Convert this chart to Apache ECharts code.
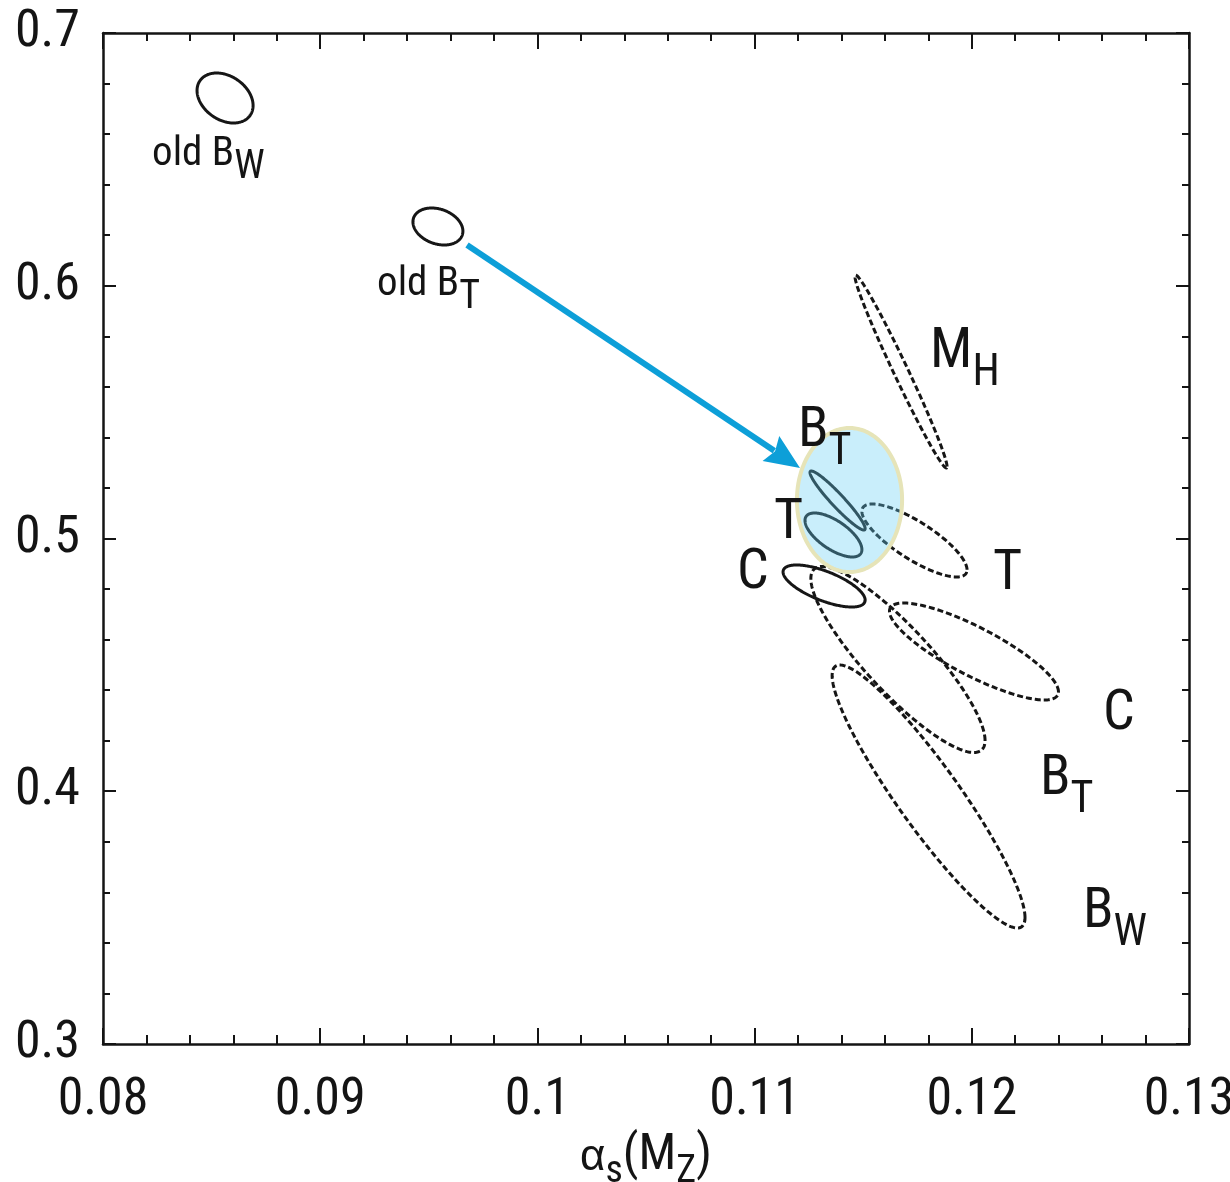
<!DOCTYPE html>
<html>
<head>
<meta charset="utf-8">
<script src="https://cdn.jsdelivr.net/npm/echarts@6/dist/echarts.min.js"></script>
<style>
html,body{margin:0;padding:0;background:#fff;}
#chart{width:1230px;height:1182px;}
</style>
</head>
<body>
<div id="chart"></div>
<script>
// ---------- data ----------
const xTickLabels = ['0.08', '0.09', '0.1', '0.11', '0.12', '0.13'];
const yTickLabels = ['0.3', '0.4', '0.5', '0.6', '0.7'];

// confidence ellipses: centre, half-extent in x and y, correlation
const ellipseNames = ['old B_W', 'old B_T', 'M_H', 'combined', 'B_T', 'T', 'C', 'T fit', 'C fit', 'B_T fit', 'B_W fit'];
const ellipseKind  = ['solid', 'solid', 'dashed', 'highlight', 'solid', 'solid', 'solid', 'dashed', 'dashed', 'dashed', 'dashed'];
const ellipseCx  = [0.08562, 0.09542, 0.11674, 0.11437, 0.11382, 0.11363, 0.11320, 0.11736, 0.12010, 0.11660, 0.11801];
const ellipseCy  = [0.67428, 0.62344, 0.56607, 0.51523, 0.51503, 0.50139, 0.48121, 0.49921, 0.45529, 0.45213, 0.39792];
const ellipseSx  = [0.00129, 0.00115, 0.00212, 0.00242, 0.00127, 0.00131, 0.00189, 0.00242, 0.00389, 0.00401, 0.00444];
const ellipseSy  = [0.00989, 0.00732, 0.03818, 0.02849, 0.01167, 0.00870, 0.00831, 0.01444, 0.01919, 0.03680, 0.05203];
const ellipseRho = [-0.30, -0.25, -0.985, 0, -0.95, -0.66, -0.67, -0.80, -0.83, -0.87, -0.92];

// text labels (left edge, vertical centre of capitals)
const labelMain = ['old B', 'old B', 'M', 'B', 'T', 'C', 'T', 'C', 'B', 'B'];
const labelSub  = ['W', 'T', 'H', 'T', '', '', '', '', 'T', 'W'];
const labelKind = ['old', 'old', 'new', 'new', 'new', 'new', 'new', 'new', 'new', 'new'];
const labelX = [0.08226, 0.09262, 0.11808, 0.11200, 0.11089, 0.10919, 0.12098, 0.12604, 0.12314, 0.12512];
const labelY = [0.65173, 0.60030, 0.57339, 0.54214, 0.50574, 0.48596, 0.48556, 0.43017, 0.40445, 0.35183];

// arrow from old B_T to the combined result
const arrowFrom = [0.09676, 0.61612];
const arrowTo   = [0.11209, 0.52789];

// ---------- styles ----------
const FONT = "'Roboto Condensed','Roboto','Liberation Sans',sans-serif";
const GREEK = "'Liberation Sans','DejaVu Sans',sans-serif";
const INK = '#141414';

function ellipsePoints(i, api) {
  const cx = ellipseCx[i], cy = ellipseCy[i], sx = ellipseSx[i], sy = ellipseSy[i], r = ellipseRho[i];
  const s = Math.sqrt(1 - r * r);
  const pts = [];
  const N = 240;
  for (let k = 0; k < N; k++) {
    const t = 2 * Math.PI * k / N;
    pts.push(api.coord([cx + sx * Math.cos(t), cy + sy * (r * Math.cos(t) + s * Math.sin(t))]));
  }
  return pts;
}

const lineIdx = [], hiIdx = [];
ellipseKind.forEach((k, i) => (k === 'highlight' ? hiIdx : lineIdx).push(i));

const labelStyles = {
  old: { main: 41, sub: 40, off: 13 },
  new: { main: 56, sub: 44, off: 21 }
};

const chart = echarts.init(document.getElementById('chart'), null, { renderer: 'canvas' });

const axisCommon = {
  type: 'value',
  axisLine: { show: true, lineStyle: { color: INK, width: 2.5 } },
  splitLine: { show: false },
  minorSplitLine: { show: false }
};

const nameMain = 50, nameSub = 38, nameOff = 16;
const nameLH = nameOff + (nameMain + nameSub) / 2;

const option = {
  backgroundColor: '#ffffff',
  animation: false,
  grid: { left: 103, right: 41, top: 33, bottom: 138, outerBoundsMode: 'none', containLabel: false },
  xAxis: [
    Object.assign({}, axisCommon, {
      position: 'bottom', min: 0.08, max: 0.13, interval: 0.01,
      axisTick: { inside: true, length: 16, lineStyle: { color: INK, width: 2 } },
      minorTick: { show: true, splitNumber: 5, length: 9, lineStyle: { color: INK, width: 2 } },
      axisLabel: {
        fontSize: 52, lineHeight: 52, fontFamily: FONT, color: INK, margin: 31,
        formatter: v => xTickLabels[Math.round((v - 0.08) / 0.01)]
      },
      name: '{a|α}{s|s}{b|(M}{z|Z}{c|)}',
      nameLocation: 'middle',
      nameGap: 84,
      nameTextStyle: {
        color: INK,
        rich: {
          a: { fontSize: 44, lineHeight: nameMain, verticalAlign: 'top', fontFamily: GREEK, color: INK, padding: [4, 0, 0, 0] },
          s: { fontSize: nameSub, lineHeight: nameLH, verticalAlign: 'bottom', fontFamily: FONT, color: INK },
          b: { fontSize: nameMain, verticalAlign: 'top', fontFamily: FONT, color: INK },
          z: { fontSize: nameSub, lineHeight: nameLH, verticalAlign: 'bottom', fontFamily: FONT, color: INK },
          c: { fontSize: nameMain, verticalAlign: 'top', fontFamily: FONT, color: INK }
        }
      }
    }),
    Object.assign({}, axisCommon, {
      position: 'top', min: 0.08, max: 0.13, interval: 0.01,
      axisTick: { inside: true, length: 16, lineStyle: { color: INK, width: 2 } },
      minorTick: { show: true, splitNumber: 5, length: 8, lineStyle: { color: INK, width: 2 } },
      axisLabel: { show: false }
    })
  ],
  yAxis: [
    Object.assign({}, axisCommon, {
      position: 'left', min: 0.3, max: 0.7, interval: 0.1,
      axisTick: { inside: true, length: 13, lineStyle: { color: INK, width: 2 } },
      minorTick: { show: true, splitNumber: 5, length: 7, lineStyle: { color: INK, width: 2 } },
      axisLabel: {
        fontSize: 52, lineHeight: 52, fontFamily: FONT, color: INK, margin: 23,
        formatter: v => yTickLabels[Math.round((v - 0.3) / 0.1)]
      }
    }),
    Object.assign({}, axisCommon, {
      position: 'right', min: 0.3, max: 0.7, interval: 0.1,
      axisTick: { inside: true, length: 13, lineStyle: { color: INK, width: 2 } },
      minorTick: { show: true, splitNumber: 5, length: 7, lineStyle: { color: INK, width: 2 } },
      axisLabel: { show: false }
    })
  ],
  series: [
    {
      name: 'ellipses',
      type: 'custom',
      coordinateSystem: 'cartesian2d',
      xAxisIndex: 0, yAxisIndex: 0,
      encode: { x: 0, y: 1 },
      data: lineIdx.map(i => [ellipseCx[i], ellipseCy[i], i]),
      renderItem: (params, api) => {
        const i = api.value(2);
        const dashed = ellipseKind[i] === 'dashed';
        return {
          type: 'polygon',
          shape: { points: ellipsePoints(i, api) },
          style: { fill: 'none', stroke: '#161616', lineWidth: 3, lineDash: dashed ? [6, 3] : null }
        };
      },
      z: 2
    },
    {
      name: 'combined',
      type: 'custom',
      coordinateSystem: 'cartesian2d',
      xAxisIndex: 0, yAxisIndex: 0,
      encode: { x: 0, y: 1 },
      data: hiIdx.map(i => [ellipseCx[i], ellipseCy[i], i]),
      renderItem: (params, api) => {
        const i = api.value(2);
        return {
          type: 'polygon',
          shape: { points: ellipsePoints(i, api) },
          style: { fill: 'rgba(101,206,244,0.35)', stroke: '#e6e4b8', lineWidth: 4 }
        };
      },
      z: 3
    },
    {
      name: 'arrow',
      type: 'custom',
      coordinateSystem: 'cartesian2d',
      xAxisIndex: 0, yAxisIndex: 0,
      encode: { x: 0, y: 1 },
      data: [[arrowFrom[0], arrowFrom[1], arrowTo[0], arrowTo[1]]],
      renderItem: (params, api) => {
        const p0 = api.coord([api.value(0), api.value(1)]);
        const p1 = api.coord([api.value(2), api.value(3)]);
        const dx = p1[0] - p0[0], dy = p1[1] - p0[1];
        const L = Math.sqrt(dx * dx + dy * dy);
        const ux = dx / L, uy = dy / L, px = -uy, py = ux;
        const hl = 35, hw = 15;
        const bx = p1[0] - ux * hl, by = p1[1] - uy * hl;
        return {
          type: 'group',
          children: [
            { type: 'line', shape: { x1: p0[0], y1: p0[1], x2: bx + ux * 4, y2: by + uy * 4 },
              style: { stroke: '#0d9fd8', lineWidth: 6, lineCap: 'butt' } },
            { type: 'polygon', shape: { points: [[p1[0], p1[1]], [bx + px * hw, by + py * hw], [bx + ux * 5, by + uy * 5], [bx - px * hw, by - py * hw]] },
              style: { fill: '#0d9fd8', stroke: null } }
          ]
        };
      },
      z: 4
    },
    {
      name: 'labels',
      type: 'custom',
      coordinateSystem: 'cartesian2d',
      xAxisIndex: 0, yAxisIndex: 0,
      encode: { x: 0, y: 1 },
      data: labelX.map((x, i) => [x, labelY[i], i]),
      renderItem: (params, api) => {
        const i = api.value(2);
        const st = labelStyles[labelKind[i]];
        const p = api.coord([api.value(0), api.value(1)]);
        const half = st.main / 2;
        const lh = st.off + (st.main + st.sub) / 2;
        const text = labelSub[i] ? '{m|' + labelMain[i] + '}{s|' + labelSub[i] + '}' : '{m|' + labelMain[i] + '}';
        return {
          type: 'text',
          x: p[0],
          y: p[1] - half,
          style: {
            text: text,
            align: 'left',
            verticalAlign: 'top',
            fill: INK,
            rich: {
              m: { fontSize: st.main, verticalAlign: 'top', fontFamily: FONT, fill: INK },
              s: { fontSize: st.sub, lineHeight: lh, verticalAlign: 'bottom', fontFamily: FONT, fill: INK }
            }
          }
        };
      },
      z: 5
    }
  ]
};

chart.setOption(option);
</script>
</body>
</html>
